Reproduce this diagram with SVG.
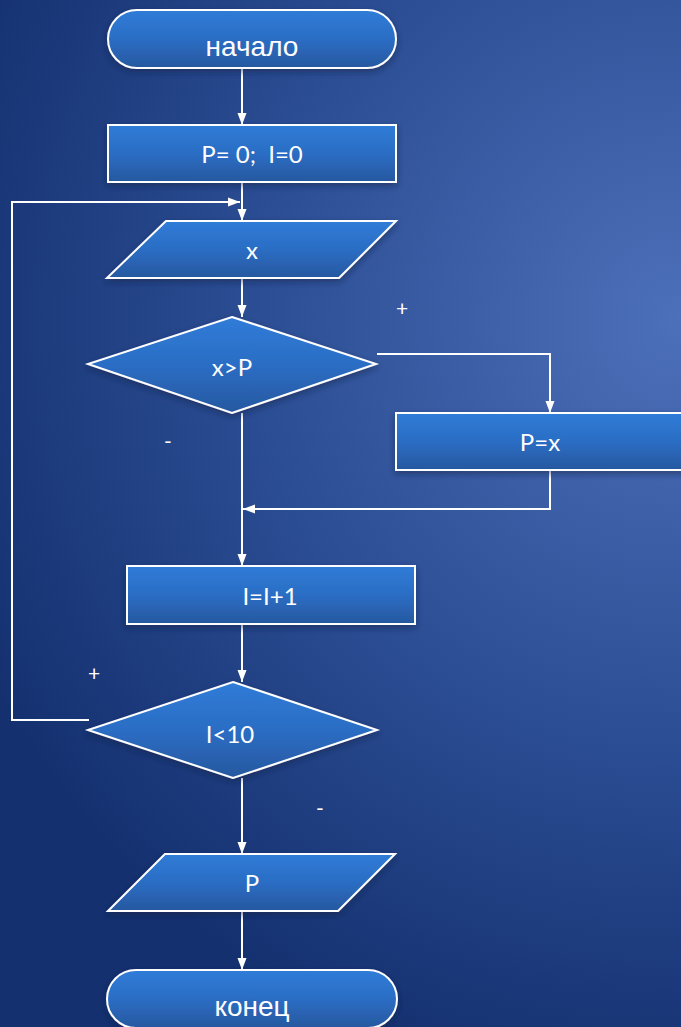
<svg xmlns="http://www.w3.org/2000/svg" width="681" height="1027" viewBox="0 0 681 1027">
<defs>
<radialGradient id="bg" cx="680" cy="320" r="780" gradientUnits="userSpaceOnUse">
<stop offset="0" stop-color="#4d70ba"/>
<stop offset="0.55" stop-color="#2b4d93"/>
<stop offset="1" stop-color="#14306f"/>
</radialGradient>
<linearGradient id="nf" x1="0" y1="0" x2="0" y2="1">
<stop offset="0" stop-color="#2f7cd8"/>
<stop offset="0.5" stop-color="#2b6dc4"/>
<stop offset="1" stop-color="#27589f"/>
</linearGradient>
<filter id="sh" x="-10%" y="-20%" width="120%" height="150%">
<feDropShadow dx="0" dy="3" stdDeviation="3" flood-color="#0a1a40" flood-opacity="0.5"/>
</filter>
<marker id="ah" markerWidth="12" markerHeight="12" viewBox="0 0 12 12" refX="12" refY="6" orient="auto" markerUnits="userSpaceOnUse">
<path d="M0,1.5 L12,6 L0,10.5 Z" fill="#ffffff"/>
</marker>
</defs>
<style>
.n{fill:url(#nf);stroke:#ffffff;stroke-width:2;filter:url(#sh)}
.t{fill:#ffffff;font-family:Lato,"Open Sans","Liberation Sans",sans-serif;font-size:24px;text-anchor:middle;dominant-baseline:central;white-space:pre}
.ta{fill:#ffffff;font-family:"Liberation Sans",Arial,sans-serif;font-size:28px;text-anchor:middle;dominant-baseline:central}
.c{fill:none;stroke:#ffffff;stroke-width:2}
.l{fill:#ffffff;font-family:Lato,"Liberation Sans",sans-serif;font-size:21px;text-anchor:middle;dominant-baseline:central}
</style>
<rect width="681" height="1027" fill="url(#bg)"/>
<g id="connectors">
<line class="c" x1="242" y1="68" x2="242" y2="125" marker-end="url(#ah)"/>
<line class="c" x1="242" y1="182" x2="242" y2="221" marker-end="url(#ah)"/>
<polyline class="c" points="89,720 12,720 12,202 240,202" marker-end="url(#ah)"/>
<line class="c" x1="242" y1="278" x2="242" y2="317" marker-end="url(#ah)"/>
<polyline class="c" points="377,354 550,354 550,413" marker-end="url(#ah)"/>
<polyline class="c" points="550,470 550,509 243,509" marker-end="url(#ah)"/>
<line class="c" x1="242" y1="413" x2="242" y2="566" marker-end="url(#ah)"/>
<line class="c" x1="242" y1="624" x2="242" y2="682" marker-end="url(#ah)"/>
<line class="c" x1="242" y1="778" x2="242" y2="854" marker-end="url(#ah)"/>
<line class="c" x1="242" y1="911" x2="242" y2="970" marker-end="url(#ah)"/>
<text class="l" x="402" y="307">+</text>
<text class="l" x="168" y="440">-</text>
<text class="l" x="94" y="672">+</text>
<text class="l" x="320" y="807">-</text>
</g>
<g id="start">
<rect class="n" x="108" y="10" width="288" height="58" rx="29" ry="29"/>
<text class="ta" x="252" y="46">начало</text>
</g>
<g id="init">
<rect class="n" x="108" y="125" width="288" height="57"/>
<text class="t" x="252" y="153" xml:space="preserve">P= 0;  I=0</text>
</g>
<g id="input">
<polygon class="n" points="166,221 396,221 339,278 107,278"/>
<text class="t" x="252" y="249">x</text>
</g>
<g id="cond1">
<polygon class="n" points="232,317 376,364 232,413 88,364"/>
<text class="t" x="232" y="366">x&gt;P</text>
</g>
<g id="assign">
<rect class="n" x="396" y="413" width="290" height="57"/>
<text class="t" x="540" y="441">P=x</text>
</g>
<g id="incr">
<rect class="n" x="127" y="566" width="288" height="58"/>
<text class="t" x="270" y="595">I=I+1</text>
</g>
<g id="cond2">
<polygon class="n" points="233,682 377,730 233,778 88,730"/>
<text class="t" x="230" y="733">I&lt;10</text>
</g>
<g id="output">
<polygon class="n" points="165,854 395,854 338,911 108,911"/>
<text class="t" x="252" y="882">P</text>
</g>
<g id="end">
<rect class="n" x="107" y="970" width="290" height="58" rx="29" ry="29"/>
<text class="ta" x="252" y="1006">конец</text>
</g>
</svg>
